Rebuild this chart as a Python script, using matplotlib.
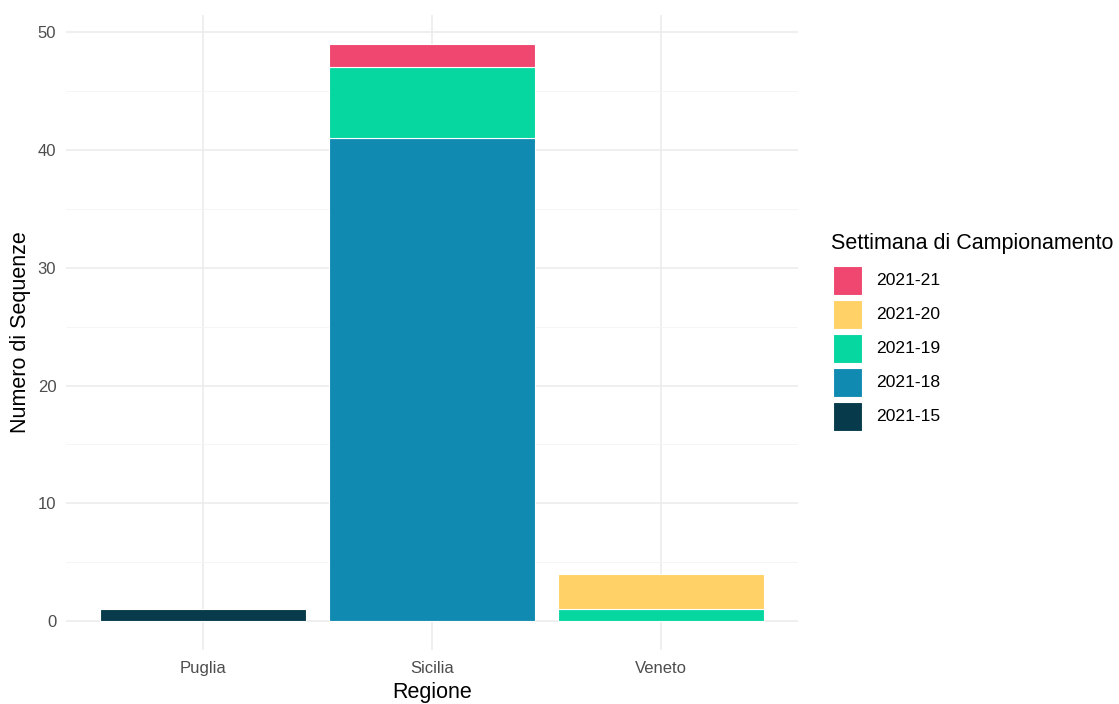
import numpy as np
import matplotlib
matplotlib.use("Agg")
import matplotlib.pyplot as plt
from matplotlib.patches import Rectangle

plt.rcParams['font.family'] = ['Liberation Sans', 'DejaVu Sans']

regions = ['Puglia', 'Sicilia', 'Veneto']
weeks = ['2021-15', '2021-18', '2021-19', '2021-20', '2021-21']
counts = {
    '2021-15': [1, 0, 0],
    '2021-18': [0, 41, 0],
    '2021-19': [0, 6, 1],
    '2021-20': [0, 0, 3],
    '2021-21': [0, 2, 0],
}
colors = {
    '2021-15': '#073B4C',
    '2021-18': '#118AB2',
    '2021-19': '#06D6A0',
    '2021-20': '#FFD166',
    '2021-21': '#EF476F',
}

W, H = 1119, 704
fig = plt.figure(figsize=(W / 100, H / 100), dpi=100)
ax = fig.add_axes([66/W, 1 - 650/H, (798-66)/W, (650-15)/H])

x = np.arange(1, len(regions) + 1)
bottom = np.zeros(len(regions))
for w in weeks:
    v = np.array(counts[w], dtype=float)
    m = v > 0
    ax.bar(x[m], v[m], bottom=bottom[m], width=0.9, color=colors[w],
           edgecolor='white', linewidth=0.8, zorder=3)
    bottom += v

total = bottom.max()
ax.set_xlim(0.4, 3.6)
ax.set_ylim(-0.05 * total, total * 1.05)
ax.set_xticks(x)
ax.set_xticklabels(regions)
ax.set_yticks([0, 10, 20, 30, 40, 50])
ax.set_yticks([5, 15, 25, 35, 45], minor=True)
ax.grid(True, which='major', color='#EBEBEB', linewidth=1.1, zorder=0)
ax.grid(True, which='minor', axis='y', color='#F4F4F4', linewidth=0.6, zorder=0)
ax.tick_params(which='both', length=0, labelsize=12, labelcolor='#4D4D4D', pad=7)
ax.tick_params(axis='x', pad=8)
for s in ax.spines.values():
    s.set_visible(False)
ax.set_xlabel('Regione', fontsize=15.5)
ax.set_ylabel('Numero di Sequenze', fontsize=15.5)
ax.xaxis.set_label_coords(0.5, (650 - 682) / 635)
ax.yaxis.set_label_coords((31 - 66) / 732, 0.5)

# legend (ggplot-style, drawn by hand)
fig.text(831/W, 1 - 243/H, 'Settimana di Campionamento', fontsize=15.5,
         ha='left', va='center')
for i, w in enumerate(weeks[::-1]):
    yc = 280.5 + i * 34.05
    fig.patches.append(Rectangle((833/W, 1 - (yc + 14.5)/H), 29/W, 29/H,
                                 transform=fig.transFigure, facecolor=colors[w],
                                 edgecolor='white', linewidth=0.8))
    fig.text(876/W, 1 - yc/H, w, fontsize=12.6, ha='left', va='center')

fig.savefig('out.png', dpi=100, facecolor='white')
